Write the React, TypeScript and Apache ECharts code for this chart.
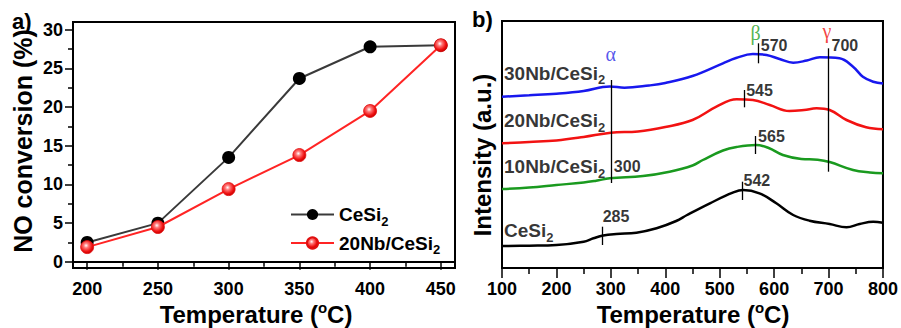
import React, { useEffect, useRef } from 'react';
import * as echarts from 'echarts';

// ---------- Panel a data ----------
const tempA = [200, 250, 300, 350, 400, 450];
const ceSi2Conv = [2.5, 5.0, 13.5, 23.7, 27.8, 28.0];
const nb20Conv = [1.9, 4.5, 9.4, 13.8, 19.5, 28.0];
const yTicksA = [0, 5, 10, 15, 20, 25, 30];
const yMinorA = [2.5, 7.5, 12.5, 17.5, 22.5, 27.5];
const xTicksA = [200, 250, 300, 350, 400, 450];
const xMinorA = [225, 275, 325, 375, 425];

// ---------- Panel b data (arbitrary intensity) ----------
const ceT = [100, 150, 200, 250, 268, 286, 310, 347, 384, 420, 440, 482, 524, 543, 573, 604, 635, 665, 702, 733, 757, 782, 800];
const ceI = [22, 22.3, 23, 26.3, 29.7, 32.5, 34, 35.3, 39.7, 47, 53, 64.7, 75.3, 78, 74.7, 64.7, 53, 47.3, 44, 40.7, 44, 46.3, 45.3];
const nb10T = [100, 150, 200, 250, 273, 298, 359, 408, 450, 469, 506, 531, 567, 590, 616, 650, 680, 702, 745, 776, 800];
const nb10I = [79, 80.5, 83, 85.5, 87.3, 89.7, 92, 96.3, 102.5, 108, 117.5, 121, 123, 120, 113, 109, 108.3, 106, 98, 95.5, 94.7];
const nb20T = [100, 150, 200, 250, 300, 350, 400, 450, 494, 531, 561, 592, 628, 655, 678, 702, 733, 769, 800];
const nb20I = [124.7, 126, 127.5, 131, 135.3, 136.5, 141, 148, 161.3, 168.7, 168, 163, 157, 158, 159.7, 158, 148, 140.7, 138.7];
const nb30T = [100, 150, 200, 250, 298, 325, 370, 400, 450, 506, 530, 561, 586, 610, 635, 660, 684, 720, 745, 763, 782, 800];
const nb30I = [171.3, 172.7, 174.3, 177, 181.5, 180.3, 182.5, 185, 192, 204.7, 210, 214, 213, 209, 205.3, 207.5, 210.7, 209.7, 201.3, 191.3, 186.3, 184.5];

// peak marks
const peakText = ['285', '542', '300', '565', '545', '570', '700'];
const peakT = [285, 542, 300, 565, 545, 570, 700];
const peakTop = [41.3, 86.3, 188, 132, 178, 224.7, 219.7];
const peakBottom = [23, 68, 85, 114, 160.7, 204.7, 96.3];
const peakLabelY = [52, 88, 102, 131.3, 177.3, 222.3, 222.3];
const peakLabelGap = [0, 1, 3, 3, 2, 3, 3];

const greekText = ['α', 'β', 'γ'];
const greekT = [300, 566, 697];
const greekY = [214, 235, 237];
const greekColor = ['#2a2ae6', '#1f9e24', '#f01010'];

const sampleText = ['30Nb/CeSi', '20Nb/CeSi', '10Nb/CeSi', 'CeSi'];
const sampleY = [194.7, 147.3, 101.3, 37.3];

const xTicksB = [100, 200, 300, 400, 500, 600, 700, 800];

const FONT = '"Liberation Sans", Arial, sans-serif';
const zip = (a: number[], b: number[]) => a.map((v, i) => [v, b[i]]);

export default function App() {
  const ref = useRef<HTMLDivElement>(null);
  useEffect(() => {
    if (!ref.current) return;
    const chart = echarts.init(ref.current, undefined, { renderer: 'svg' });
    const axisLine = { show: true, lineStyle: { color: '#000', width: 2 } };
    const tickLabel = { color: '#000', fontSize: 18, fontWeight: 'bold' as const, fontFamily: FONT, lineHeight: 16 };
    const redGrad = new echarts.graphic.RadialGradient(0.42, 0.38, 0.6, [
      { offset: 0, color: '#ffffff' },
      { offset: 0.3, color: '#ff7a7a' },
      { offset: 0.75, color: '#f01414' },
      { offset: 1, color: '#d00000' },
    ]);
    const subRich = {
      n: { fontSize: 19, fontWeight: 'bold', color: '#000', fontFamily: FONT, lineHeight: 26, verticalAlign: 'middle' },
      s: { fontSize: 13, fontWeight: 'bold', color: '#000', fontFamily: FONT, lineHeight: 26, verticalAlign: 'bottom' },
    };
    const titleRich = {
      t: { fontSize: 24, fontWeight: 'bold', color: '#000', fontFamily: FONT, lineHeight: 22, verticalAlign: 'middle' },
      o: { fontSize: 15, fontWeight: 'bold', color: '#000', fontFamily: FONT, lineHeight: 4, verticalAlign: 'middle', padding: [0, 0, 14, 0] },
    };

    const option: any = {
      animation: false,
      textStyle: { fontFamily: FONT },
      grid: [
        { left: 73, top: 22, width: 382, height: 246, show: true, borderColor: '#000', borderWidth: 2, backgroundColor: 'transparent' },
        { left: 502, top: 21, width: 381, height: 247, show: true, borderColor: '#000', borderWidth: 2, backgroundColor: 'transparent' },
      ],
      xAxis: [
        {
          gridIndex: 0, type: 'value', position: 'bottom', min: 190, max: 460, axisLine,
          axisTick: { show: true, inside: false, length: 8, lineStyle: { color: '#000', width: 1.5 }, customValues: xTicksA },
          axisLabel: { ...tickLabel, margin: 13, customValues: xTicksA },
          splitLine: { show: false },
        },
        {
          gridIndex: 0, type: 'value', position: 'bottom', min: 190, max: 460, axisLine: { show: false },
          axisTick: { show: true, inside: false, length: 5, lineStyle: { color: '#000', width: 1.5 }, customValues: xMinorA },
          axisLabel: { show: false }, splitLine: { show: false },
        },
        {
          gridIndex: 1, type: 'value', position: 'bottom', min: 100, max: 800, interval: 100, axisLine,
          axisTick: { show: true, inside: false, length: 10, lineStyle: { color: '#000', width: 1.5 } },
          minorTick: { show: true, splitNumber: 2, length: 6, lineStyle: { color: '#000', width: 1.5 } },
          axisLabel: { ...tickLabel, margin: 13, customValues: xTicksB },
          splitLine: { show: false },
        },
      ],
      yAxis: [
        {
          gridIndex: 0, type: 'value', position: 'left', min: -0.8, max: 31, axisLine,
          axisTick: { show: true, inside: false, length: 8, lineStyle: { color: '#000', width: 1.5 }, customValues: yTicksA },
          axisLabel: { ...tickLabel, margin: 10, customValues: yTicksA },
          splitLine: { show: false },
        },
        {
          gridIndex: 0, type: 'value', position: 'left', min: -0.8, max: 31, axisLine: { show: false },
          axisTick: { show: true, inside: false, length: 5, lineStyle: { color: '#000', width: 1.5 }, customValues: yMinorA },
          axisLabel: { show: false }, splitLine: { show: false },
        },
        {
          gridIndex: 1, type: 'value', position: 'left', min: 0, max: 247, axisLine,
          axisTick: { show: false }, axisLabel: { show: false }, splitLine: { show: false },
        },
      ],
      legend: {
        orient: 'vertical', left: 290, top: 205, padding: 0, itemWidth: 43, itemHeight: 14, itemGap: 6,
        data: ['CeSi2', '20Nb/CeSi2'],
        formatter: (name: string) => (name === 'CeSi2' ? '{n|CeSi}{s|2}' : '{n|20Nb/CeSi}{s|2}'),
        textStyle: { rich: subRich },
      },
      series: [
        {
          name: 'CeSi2', type: 'line', xAxisIndex: 0, yAxisIndex: 0, data: zip(tempA, ceSi2Conv),
          symbol: 'circle', symbolSize: 13, lineStyle: { color: '#3a3a3a', width: 2 },
          itemStyle: { color: '#000' }, z: 2,
        },
        {
          name: '20Nb/CeSi2', type: 'line', xAxisIndex: 0, yAxisIndex: 0, data: zip(tempA, nb20Conv),
          symbol: 'circle', symbolSize: 13, lineStyle: { color: '#ff2424', width: 2 },
          itemStyle: { color: redGrad, borderColor: '#e01010', borderWidth: 0.8 }, z: 3,
        },
        {
          name: 'b-CeSi2', type: 'line', xAxisIndex: 2, yAxisIndex: 2, data: zip(ceT, ceI), smooth: 0.4,
          showSymbol: false, lineStyle: { color: '#000', width: 2.5 }, itemStyle: { color: '#000' },
          markLine: {
            silent: true, symbol: ['none', 'none'], animation: false,
            label: { show: false },
            lineStyle: { color: '#000', width: 1.3, type: 'solid' },
            data: peakT.map((t, i) => [{ coord: [t, peakTop[i]] }, { coord: [t, peakBottom[i]] }]),
          },
        },
        {
          name: 'b-10Nb', type: 'line', xAxisIndex: 2, yAxisIndex: 2, data: zip(nb10T, nb10I), smooth: 0.4,
          showSymbol: false, lineStyle: { color: '#1a9a1f', width: 2.5 }, itemStyle: { color: '#1a9a1f' },
        },
        {
          name: 'b-20Nb', type: 'line', xAxisIndex: 2, yAxisIndex: 2, data: zip(nb20T, nb20I), smooth: 0.4,
          showSymbol: false, lineStyle: { color: '#f21212', width: 2.5 }, itemStyle: { color: '#f21212' },
        },
        {
          name: 'b-30Nb', type: 'line', xAxisIndex: 2, yAxisIndex: 2, data: zip(nb30T, nb30I), smooth: 0.4,
          showSymbol: false, lineStyle: { color: '#1818ee', width: 2.5 }, itemStyle: { color: '#1818ee' },
        },
        {
          name: 'peakLabels', type: 'scatter', xAxisIndex: 2, yAxisIndex: 2, symbolSize: 0, silent: true,
          data: peakT.map((t, i) => ({
            value: [t, peakLabelY[i]], name: peakText[i],
            label: { show: true, position: 'right', distance: peakLabelGap[i], formatter: peakText[i],
              fontSize: 16, fontWeight: 'bold', color: '#000', fontFamily: FONT },
          })),
        },
        {
          name: 'greek', type: 'scatter', xAxisIndex: 2, yAxisIndex: 2, symbolSize: 0, silent: true,
          data: greekT.map((t, i) => ({
            value: [t, greekY[i]], name: greekText[i],
            label: { show: true, position: 'inside', formatter: greekText[i],
              fontSize: 20, color: greekColor[i], fontFamily: '"Liberation Serif", "Times New Roman", serif' },
          })),
        },
        {
          name: 'samples', type: 'scatter', xAxisIndex: 2, yAxisIndex: 2, symbolSize: 0, silent: true,
          data: sampleText.map((s, i) => ({
            value: [100, sampleY[i]], name: s,
            label: { show: true, position: 'right', distance: 2, formatter: `{n|${s}}{s|2}`, rich: subRich },
          })),
        },
      ],
      graphic: [
        { type: 'text', left: 12, top: 10, style: { text: 'a)', fontSize: 22, fontWeight: 'bold', fill: '#000', fontFamily: FONT } },
        { type: 'text', left: 472, top: 8, style: { text: 'b)', fontSize: 22, fontWeight: 'bold', fill: '#000', fontFamily: FONT } },
        {
          type: 'text', x: 22.5, y: 141, rotation: Math.PI / 2,
          style: { text: 'NO conversion (%)', fontSize: 25, fontWeight: 'bold', fill: '#000', fontFamily: FONT, align: 'center', verticalAlign: 'middle' },
        },
        {
          type: 'text', x: 482.5, y: 155, rotation: Math.PI / 2,
          style: { text: 'Intensity (a.u.)', fontSize: 24, fontWeight: 'bold', fill: '#000', fontFamily: FONT, align: 'center', verticalAlign: 'middle' },
        },
        {
          type: 'text', x: 256, y: 314,
          style: { text: '{t|Temperature (}{o|o}{t|C)}', rich: titleRich, align: 'center', verticalAlign: 'middle' },
        },
        {
          type: 'text', x: 693, y: 314,
          style: { text: '{t|Temperature (}{o|o}{t|C)}', rich: titleRich, align: 'center', verticalAlign: 'middle' },
        },
      ],
    };
    chart.setOption(option);
    return () => chart.dispose();
  }, []);
  return <div ref={ref} style={{ position: 'absolute', left: 0, top: 0, width: 901, height: 328, background: '#fff' }} />;
}
